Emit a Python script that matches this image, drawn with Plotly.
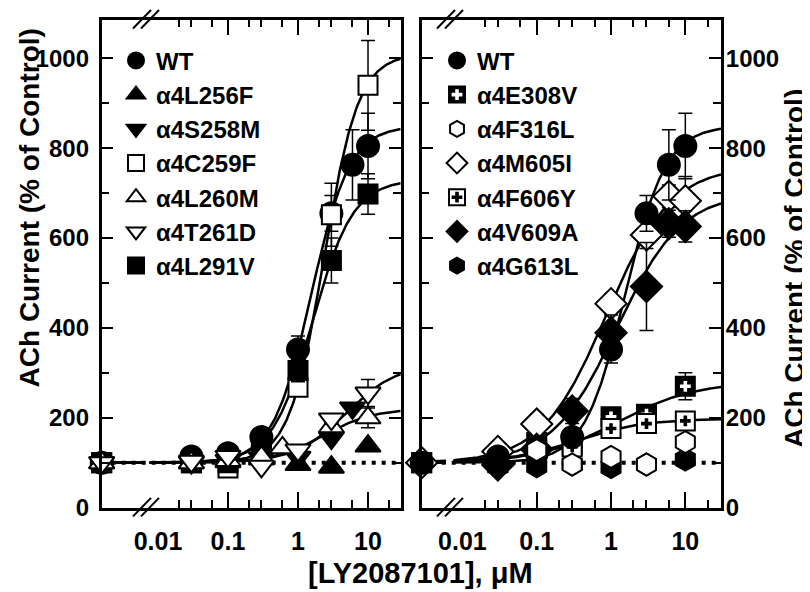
import numpy as np
import plotly.graph_objects as go

# ------------------------------------------------------------------ data
CONTROL_Y = 100

# Left panel (concentrations in uM, responses in % of control, SEM)
WT_X = [0.03, 0.1, 0.3, 1, 3, 6, 10]
WT_Y = [114, 121, 157, 352, 655, 763, 805]
WT_E = [8, 10, 15, 30, 40, 78, 73]

L256F_X = [0.03, 0.1, 0.3, 1, 3, 10]
L256F_Y = [100, 102, 108, 96, 90, 137]
L256F_E = [0, 0, 0, 0, 0, 0]

S258M_X = [0.03, 0.1, 0.3, 1, 3, 6]
S258M_Y = [100, 105, 110, 112, 155, 222]
S258M_E = [0, 0, 0, 0, 0, 0]

C259F_X = [0.03, 0.1, 0.3, 1, 3, 10]
C259F_Y = [100, 88, 118, 268, 652, 940]
C259F_E = [0, 5, 10, 20, 70, 100]

L260M_X = [0.03, 0.1, 0.3, 0.6, 3, 10]
L260M_Y = [100, 105, 112, 133, 180, 200]
L260M_E = [0, 0, 0, 5, 10, 22]

T261D_X = [0.03, 0.1, 0.3, 1, 3, 10]
T261D_Y = [103, 114, 92, 128, 197, 255]
T261D_E = [5, 8, 6, 8, 10, 30]

L291V_X = [0.03, 0.1, 0.3, 1, 3, 10]
L291V_Y = [100, 100, 128, 305, 550, 698]
L291V_E = [0, 0, 5, 25, 50, 45]

# Right panel
E308V_X = [0.03, 0.1, 0.3, 1, 3, 10]
E308V_Y = [100, 145, 140, 202, 208, 270]
E308V_E = [0, 0, 0, 8, 10, 30]

F316L_X = [0.1, 0.3, 1, 3, 10]
F316L_Y = [128, 96, 113, 96, 146]
F316L_E = [0, 0, 0, 0, 0]

M605I_X = [0.03, 0.1, 1, 3, 6, 10]
M605I_Y = [125, 186, 454, 607, 693, 683]
M605I_E = [5, 22, 20, 30, 25, 54]

F606Y_X = [0.1, 0.3, 1, 3, 10]
F606Y_Y = [130, 135, 176, 187, 193]
F606Y_E = [0, 0, 6, 8, 8]

V609A_X = [0.03, 0.1, 0.3, 1, 3, 6, 10]
V609A_Y = [95, 130, 215, 389, 492, 632, 626]
V609A_E = [0, 0, 28, 40, 98, 30, 35]

G613L_X = [0.03, 0.1, 0.3, 1, 3, 10]
G613L_Y = [92, 92, 96, 90, 96, 107]
G613L_E = [0, 0, 0, 0, 0, 0]

# Hill-fit parameters: [top, EC50 (uM), Hill slope]
FIT_WT = [850, 1.55, 1.58]
FIT_C259F = [1010, 2.34, 1.75]
FIT_L291V = [730, 1.62, 1.5]
FIT_T261D = [320, 4.82, 1.19]
FIT_L260M = [220, 2.28, 1.22]
FIT_M605I = [760, 0.87, 1.0]
FIT_V609A = [700, 1.2, 1.0]
FIT_E308V = [280, 1.2, 0.83]
FIT_F606Y = [198, 0.34, 0.95]

# axis ticks
X_TICK_MARKS = [0.1, 1, 10]
X_LABELS = [0.01, 0.1, 1, 10]
X_LABELS_TEXT = ["0.01", "0.1", "1", "10"]
X_MINOR = [0.02, 0.03, 0.06, 0.2, 0.3, 0.6, 2, 3, 6, 20]
Y_MAJOR = [0, 200, 400, 600, 800, 1000]
Y_LABELS_TEXT = ["0", "200", "400", "600", "800", "1000"]
Y_MINOR = [100, 300, 500, 700, 900]

LEFT_XRANGE = [-2.804, 1.467]
RIGHT_XRANGE = [-2.548, 1.48]
YRANGE = [0, 1086]
BREAK_LO, BREAK_HI = 0.006, 0.0076

# ------------------------------------------------------------------ layout helpers
W, H = 810, 592          # target picture
OX, OY = 8, 8            # page body offset of the plot div
FW, FH = W - OX, H - OY  # figure size
FONT = "Liberation Sans, Arial, sans-serif"


def px(x):
    return (x - OX) / FW


def py(y):
    return 1 - (y - OY) / FH


XL = [px(101.7), px(400.7)]
XR = [px(421.7), px(721.0)]
YD = [py(519), py(20)]


def hill(x, p):
    x = np.asarray(x, float)
    top, ec50, n = p
    return CONTROL_Y + (top - CONTROL_Y) / (1 + (ec50 / x) ** n)


def curve_x(xr):
    a = np.logspace(xr[0], np.log10(BREAK_LO), 20)
    b = np.logspace(np.log10(BREAK_HI), xr[1], 250)
    return np.concatenate([a, [np.nan], b])


fig = go.Figure()

# fitted curves
for p in [FIT_WT, FIT_C259F, FIT_L291V, FIT_T261D, FIT_L260M]:
    xs = curve_x(LEFT_XRANGE)
    fig.add_trace(go.Scatter(x=xs, y=hill(xs, p), mode="lines", xaxis="x", yaxis="y",
                             line=dict(color="black", width=2.5), showlegend=False,
                             hoverinfo="skip"))
for p in [FIT_WT, FIT_M605I, FIT_V609A, FIT_E308V, FIT_F606Y]:
    xs = curve_x(RIGHT_XRANGE)
    fig.add_trace(go.Scatter(x=xs, y=hill(xs, p), mode="lines", xaxis="x2", yaxis="y2",
                             line=dict(color="black", width=2.5), showlegend=False,
                             hoverinfo="skip"))

# carriers for the label-only overlay axes
fig.add_trace(go.Scatter(x=[X_LABELS[0]], y=[None], xaxis="x3", yaxis="y3",
                         mode="markers", showlegend=False, hoverinfo="skip"))
fig.add_trace(go.Scatter(x=[X_LABELS[0]], y=[None], xaxis="x4", yaxis="y4",
                         mode="markers", showlegend=False, hoverinfo="skip"))


def add_series(name, xs, ys, es, symbol, size, fill, panel, rank, control=True,
               overlay=None):
    ctrl_x = 10 ** (LEFT_XRANGE[0] if panel == 1 else RIGHT_XRANGE[0])
    X = ([ctrl_x] if control else []) + list(xs)
    Y = ([CONTROL_Y] if control else []) + list(ys)
    E = ([0] if control else []) + list(es)
    ax = dict(xaxis="x", yaxis="y") if panel == 1 else dict(xaxis="x2", yaxis="y2")
    fig.add_trace(go.Scatter(
        x=X, y=Y, mode="markers", name=name, **ax,
        legend="legend" if panel == 1 else "legend2", legendrank=rank,
        cliponaxis=False,
        marker=dict(symbol=symbol, size=size, color=fill,
                    line=dict(color="black", width=2)),
        error_y=dict(type="data", array=E, visible=True, color="black",
                     thickness=1.5, width=7),
    ))
    if overlay is not None:
        # inner cross; its legend entry sits on top of the square in legend2
        fig.add_trace(go.Scatter(
            x=X, y=Y, mode="markers", name=" ", **ax, cliponaxis=False,
            legend="legend3", legendrank=rank, showlegend=True,
            marker=dict(symbol="cross", size=9, color=overlay, line=dict(width=0)),
            hoverinfo="skip"))


# left panel markers (draw order chosen to match overlaps)
add_series("WT", WT_X, WT_Y, WT_E, "circle", 22, "black", 1, 1)
add_series("α4C259F", C259F_X, C259F_Y, C259F_E, "square", 19, "white", 1, 4)
add_series("α4L291V", L291V_X, L291V_Y, L291V_E, "square", 19, "black", 1, 7)
add_series("α4L256F", L256F_X, L256F_Y, L256F_E, "triangle-up", 22, "black", 1, 2)
add_series("α4S258M", S258M_X, S258M_Y, S258M_E, "triangle-down", 22, "black", 1, 3)
add_series("α4L260M", L260M_X, L260M_Y, L260M_E, "triangle-up", 22, "white", 1, 5)
add_series("α4T261D", T261D_X, T261D_Y, T261D_E, "triangle-down", 22, "white", 1, 6)

# right panel markers
add_series("α4G613L", G613L_X, G613L_Y, G613L_E, "hexagon", 22, "black", 2, 7)
add_series("α4E308V", E308V_X, E308V_Y, E308V_E, "square", 19, "black", 2, 2, overlay="white")
add_series("α4F606Y", F606Y_X, F606Y_Y, F606Y_E, "square", 19, "white", 2, 5, overlay="black")
add_series("α4M605I", M605I_X, M605I_Y, M605I_E, "diamond", 24, "white", 2, 4)
add_series("α4V609A", V609A_X, V609A_Y, V609A_E, "diamond", 24, "black", 2, 6, control=False)
add_series("WT", WT_X, WT_Y, WT_E, "circle", 22, "black", 2, 1)
add_series("α4F316L", F316L_X, F316L_Y, F316L_E, "hexagon", 22, "white", 2, 3, control=False)

# invisible spacer rows so the two cross entries line up with rows 2 and 5
for rank in (1, 3, 4):
    fig.add_trace(go.Scatter(x=[None], y=[None], xaxis="x2", yaxis="y2", mode="markers",
                             name=" ", legend="legend3", legendrank=rank,
                             marker=dict(symbol="square", size=9,
                                         color="rgba(0,0,0,0)",
                                         line=dict(width=0)),
                             hoverinfo="skip"))

tickfont_x = dict(family=FONT, size=25, color="black", weight="bold")
tickfont_y = dict(family=FONT, size=24, color="black", weight="bold")


def xaxis(domain, rng, anchor):
    return dict(domain=domain, type="log", range=rng, anchor=anchor,
                showline=True, linecolor="black", linewidth=2.5, mirror="ticks",
                ticks="inside", ticklen=16, tickwidth=2, tickcolor="black",
                tickvals=X_TICK_MARKS, showticklabels=False,
                showgrid=False, zeroline=False,
                minor=dict(tickvals=X_MINOR, ticks="inside", ticklen=8,
                           tickwidth=2, tickcolor="black", showgrid=False))


def xlabels(base, rng, ypos):
    return dict(overlaying=base, type="log", range=rng, anchor="free", position=ypos,
                showline=False, ticks="", tickvals=X_LABELS, ticktext=X_LABELS_TEXT,
                tickfont=tickfont_x, showgrid=False, zeroline=False)


def yaxis(anchor, side):
    return dict(domain=YD, range=YRANGE, anchor=anchor, side=side,
                showline=True, linecolor="black", linewidth=2.5, mirror="ticks",
                ticks="inside", ticklen=12, tickwidth=2, tickcolor="black",
                tickvals=Y_MAJOR, showticklabels=False,
                showgrid=False, zeroline=False,
                minor=dict(tickvals=Y_MINOR, ticks="inside", ticklen=8,
                           tickwidth=2, tickcolor="black", showgrid=False))


def ylabels(base, side, xpos, texts):
    return dict(overlaying=base, range=YRANGE, anchor="free", position=xpos, side=side,
                showline=False, ticks="", tickvals=Y_MAJOR, ticktext=texts,
                tickfont=tickfont_y, showgrid=False, zeroline=False)


legend_font = dict(family=FONT, size=24, color="black", weight="bold")
LEG_TOP = py(39)
LEG1_X = px(136 - 20)
LEG2_X = px(457 - 20)

fig.update_layout(
    width=FW, height=FH, margin=dict(l=0, r=0, t=0, b=0),
    paper_bgcolor="white", plot_bgcolor="white",
    xaxis=xaxis(XL, LEFT_XRANGE, "y"),
    xaxis2=xaxis(XR, RIGHT_XRANGE, "y2"),
    xaxis3=xlabels("x", LEFT_XRANGE, py(536)),
    xaxis4=xlabels("x2", RIGHT_XRANGE, py(536)),
    yaxis=yaxis("x", "left"),
    yaxis2=yaxis("x2", "right"),
    yaxis3=ylabels("y", "left", px(89), Y_LABELS_TEXT),
    yaxis4=ylabels("y2", "right", px(720),
                   ["\u2009" + t for t in Y_LABELS_TEXT]),
    legend=dict(x=LEG1_X, y=LEG_TOP, xanchor="left", yanchor="top",
                bgcolor="rgba(0,0,0,0)", font=legend_font, itemwidth=30,
                tracegroupgap=0),
    legend2=dict(x=LEG2_X, y=LEG_TOP, xanchor="left", yanchor="top",
                 bgcolor="rgba(0,0,0,0)", font=legend_font, itemwidth=30,
                 tracegroupgap=0),
    legend3=dict(x=LEG2_X, y=LEG_TOP, xanchor="left", yanchor="top",
                 bgcolor="rgba(0,0,0,0)", font=legend_font, itemwidth=30,
                 tracegroupgap=0),
    showlegend=True,
)

# dotted control line at 100 %
for xr, yr in [("x domain", "y"), ("x2 domain", "y2")]:
    fig.add_shape(type="line", xref=xr, yref=yr, x0=0, x1=1, y0=CONTROL_Y, y1=CONTROL_Y,
                  line=dict(color="black", width=4, dash="4px,6px"), layer="below")

# axis-break marks (decorations, pixel positions)
for cx in (146, 450):
    for yb in (528, 29):
        for off in (-4, 4):
            fig.add_shape(type="line", xref="paper", yref="paper",
                          x0=px(cx + off - 9), x1=px(cx + off + 9),
                          y0=py(yb), y1=py(yb - 19),
                          line=dict(color="black", width=2))

ytitle_font = dict(family=FONT, size=28, color="black", weight="bold")
xtitle_font = dict(family=FONT, size=29, color="black", weight="bold")
fig.add_annotation(text="ACh Current (% of Control)", xref="paper", yref="paper",
                   x=px(29), y=py(213), textangle=-90, showarrow=False,
                   xanchor="center", yanchor="middle", font=ytitle_font)
fig.add_annotation(text="ACh Current (% of Control)", xref="paper", yref="paper",
                   x=px(794), y=py(275), textangle=-90, showarrow=False,
                   xanchor="center", yanchor="middle", font=ytitle_font)
fig.add_annotation(text="[LY2087101], μM", xref="paper", yref="paper",
                   x=px(421), y=py(586), showarrow=False,
                   xanchor="center", yanchor="middle", font=xtitle_font)

fig.write_html("out.html")
